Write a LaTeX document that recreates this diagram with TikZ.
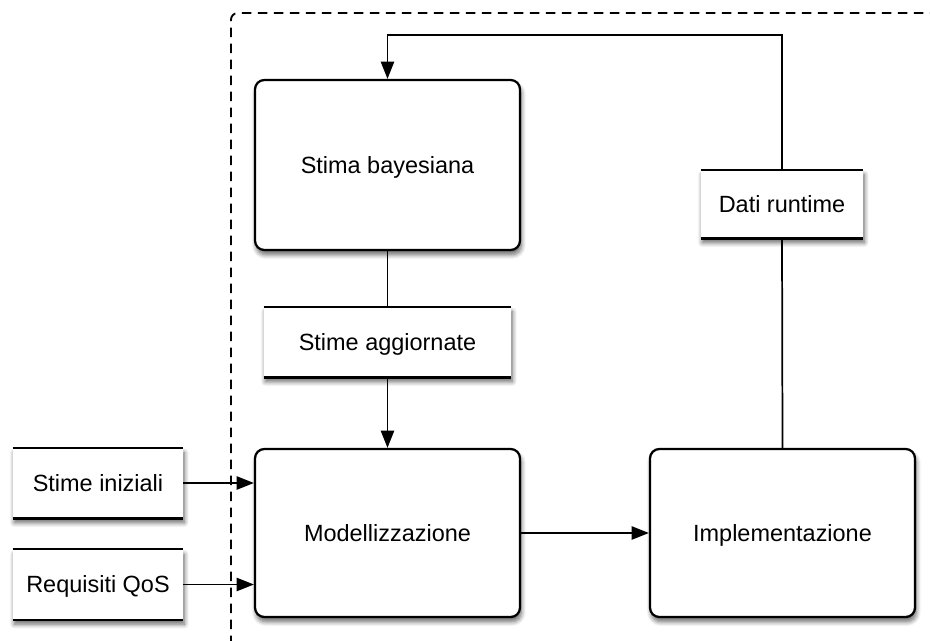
\documentclass[tikz,border=0pt]{standalone}
\usepackage{fontspec}
\setmainfont{Liberation Sans}
\usetikzlibrary{arrows.meta,shadows.blur}
\begin{document}
\begin{tikzpicture}[x=0.75pt,y=-0.75pt,
  font=\fontsize{17.6}{21}\selectfont,
  every node/.style={text height=12.6pt,text depth=0pt},
  shade/.style={blur shadow={shadow xshift=1pt,shadow yshift=-3.5pt,shadow opacity=60,shadow blur steps=7,shadow blur radius=3.5pt}},
  procbox/.style={draw,line width=1.7pt,rounded corners=7pt,fill=white,shade,
    minimum width=198.75pt,inner sep=0pt},
  databox/.style={fill=white,shade,inner sep=0pt,minimum height=52.5pt,
    append after command={
      (\tikzlastnode.north west) edge[line width=1.2pt] (\tikzlastnode.north east)
      (\tikzlastnode.south west) edge[line width=1.9pt] (\tikzlastnode.south east)}},
  link/.style={line width=1.3pt},
  flow/.style={link,-{Triangle[length=13pt,width=10pt]}}]
\useasboundingbox (0,0) rectangle (930,640);

% dashed system boundary (open to the right and below)
\draw[line width=1.4pt,dash pattern=on 7pt off 5pt,rounded corners=5pt]
  (231,645) -- (231,13) -- (935,13);

% processing blocks
\node[procbox,minimum height=127.5pt] (stima) at (387.5,165) {Stima bayesiana};
\node[procbox,minimum height=126pt] (model) at (387.5,533) {Modellizzazione};
\node[procbox,minimum height=126pt] (impl) at (782.5,533) {Implementazione};

% data blocks
\node[databox,minimum width=185.25pt] (agg) at (387.5,342) {Stime aggiornate};
\node[databox,minimum width=121.5pt,minimum height=51pt] (dati) at (782,204) {Dati runtime};
\node[databox,minimum width=127.5pt] (ini) at (98,483) {Stime iniziali};
\node[databox,minimum width=127.5pt] (req) at (98,584.5) {Requisiti QoS};

\coordinate (loop) at (387.5,35);

% connectors
\draw[link] (stima.south) -- (agg.north);
\draw[flow] (agg.south) -- (model.north);
\draw[flow] (ini.east) -- (ini.east -| model.west);
\draw[flow] (req.east) -- (req.east -| model.west);
\draw[flow] (model.east) -- (impl.west);
\draw[link] (impl.north) -- (dati.south);
\draw[flow] (dati.north) -- (dati.north |- loop) -- (loop) -- (stima.north);
\end{tikzpicture}
\end{document}
